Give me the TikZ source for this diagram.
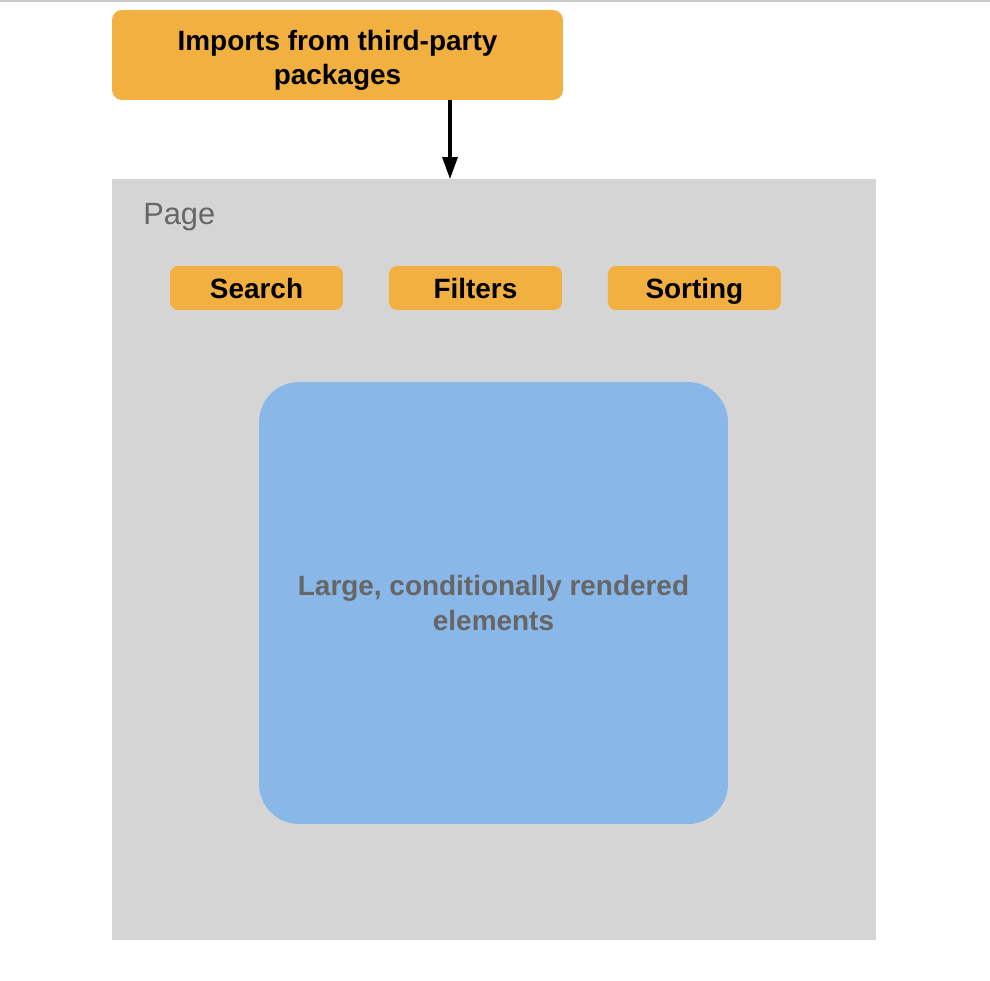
\documentclass[tikz,border=0pt]{standalone}
\usepackage{fontspec}
\setmainfont{Liberation Sans}
\usetikzlibrary{arrows.meta,positioning}
\definecolor{boxorange}{HTML}{F2B040}
\definecolor{pagegray}{HTML}{D5D5D5}
\definecolor{bigblue}{HTML}{89B7E7}
\definecolor{labelgray}{HTML}{666666}
\definecolor{rulegray}{HTML}{CBCBCF}

\begin{document}
\begin{tikzpicture}[x=0.02cm,y=-0.02cm]
\tikzstyle{orangebox}=[rectangle,fill=boxorange,draw=none,
inner sep=0pt,outer sep=0pt,align=center,
font=\fontsize{15.9}{20.4}\selectfont\bfseries]
\tikzstyle{tool}=[orangebox,rounded corners=0.16cm,
text height=14.9pt,text depth=3.3pt,
minimum width=3.46cm,minimum height=0.88cm]
\useasboundingbox (0,0) rectangle (990,980);
\fill[rulegray] (0,0) rectangle (990,2);

\node[orangebox,rounded corners=0.2cm,minimum width=9.02cm,minimum height=1.8cm,
  font=\fontsize{15.9}{19.5}\selectfont\bfseries]
  at (337.5,55) (imports) {\rule{0pt}{17.5pt}Imports from third-party\\packages};
\node[fill=pagegray,inner sep=0pt,outer sep=0pt,
  minimum width=15.28cm,minimum height=15.22cm] at (494,559.5) (page) {};
\node[anchor=west,inner sep=0pt,text=labelgray,
  font=\fontsize{17.5}{20}\selectfont] at (143,217) (pagelabel) {Page};

\node[tool] at (256.5,288) (search) {Search};
\node[tool,right=0.92cm of search] (filters) {Filters};
\node[tool,right=0.92cm of filters] (sorting) {Sorting};

\node[fill=bigblue,rounded corners=0.8cm,inner sep=0pt,align=center,
  minimum width=9.38cm,minimum height=8.84cm,text=labelgray,
  font=\fontsize{15.9}{20.4}\selectfont\bfseries]
  at (493.5,603) (elements) {Large, conditionally rendered\\elements};

\coordinate (arr) at (450,0);
\draw[line width=1.8pt,-{Triangle[length=0.44cm,width=0.3cm]}]
  (imports.south -| arr) -- (page.north -| arr);

\end{tikzpicture}
\end{document}
